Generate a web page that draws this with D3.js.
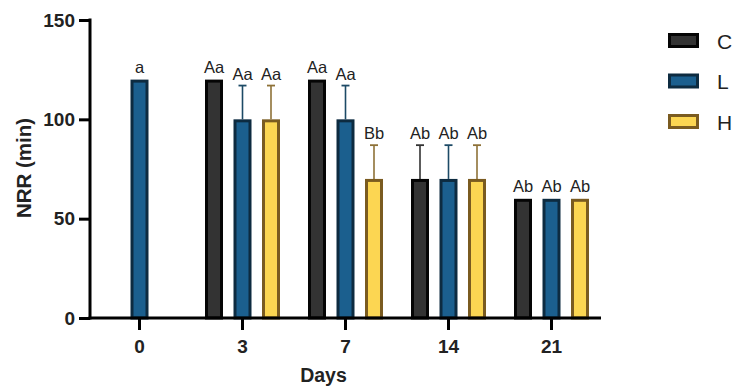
<!DOCTYPE html>
<html>
<head>
<meta charset="utf-8">
<script src="https://cdn.jsdelivr.net/npm/d3@7"></script>
<style>
  html, body { margin: 0; padding: 0; background: #fff; }
  svg { display: block; font-family: "Liberation Sans", Arial, sans-serif; }
</style>
</head>
<body>
<svg id="chart" width="736" height="387"></svg>
<script>
// Days on the x axis
const days = ["0", "3", "7", "14", "21"];
// Treatment groups
const groups = ["C", "L", "H"];

// Mean NRR (min) per group and day (null = not measured)
const valuesC = [null, 120, 120, 70, 60];
const valuesL = [120, 100, 100, 70, 60];
const valuesH = [null, 100, 70, 70, 60];

// Upper error (SD) per group and day
const errorC = [0, 0, 0, 17, 0];
const errorL = [0, 17, 17, 17, 0];
const errorH = [0, 17, 17, 17, 0];

// Significance letters per group and day
const lettersC = [null, "Aa", "Aa", "Ab", "Ab"];
const lettersL = ["a", "Aa", "Aa", "Ab", "Ab"];
const lettersH = [null, "Aa", "Bb", "Ab", "Ab"];

const yTicks = [0, 50, 100, 150];

const fills   = { C: "#333333", L: "#1b5f8e", H: "#fcd652" };
const strokes = { C: "#050505", L: "#0d2b40", H: "#7a5b20" };
const errCols = { C: "#333333", L: "#1d4a66", H: "#8e7137" };

const series = {
  C: { v: valuesC, e: errorC, t: lettersC },
  L: { v: valuesL, e: errorL, t: lettersL },
  H: { v: valuesH, e: errorH, t: lettersH }
};

const svg = d3.select("#chart");

const y = d3.scaleLinear().domain([0, 150]).range([318, 20]);
const x = d3.scaleBand().domain(days).range([88, 603]);
const xi = d3.scalePoint().domain(groups).range([-28.5, 28.5]);
const barW = 18, sw = 3;

const rows = [];
groups.forEach(g => {
  days.forEach((d, i) => {
    const v = series[g].v[i];
    if (v == null) return;
    rows.push({ g, d, v, e: series[g].e[i], t: series[g].t[i] });
  });
});

const cx = r => x(r.d) + x.bandwidth() / 2 + xi(r.g);

// error bars (upper only)
const eb = svg.append("g");
rows.filter(r => r.e > 0).forEach(r => {
  const c = cx(r);
  eb.append("line").attr("x1", c).attr("x2", c)
    .attr("y1", y(r.v)).attr("y2", y(r.v + r.e))
    .attr("stroke", errCols[r.g]).attr("stroke-width", 1.6);
  eb.append("line").attr("x1", c - 4).attr("x2", c + 4)
    .attr("y1", y(r.v + r.e)).attr("y2", y(r.v + r.e))
    .attr("stroke", errCols[r.g]).attr("stroke-width", 1.8);
});

// bars
svg.append("g").selectAll("rect").data(rows).join("rect")
  .attr("x", r => cx(r) - barW / 2 + sw / 2)
  .attr("width", barW - sw)
  .attr("y", r => y(r.v) + sw / 2)
  .attr("height", r => y(0) - y(r.v) - sw / 2)
  .attr("fill", r => fills[r.g])
  .attr("stroke", r => strokes[r.g])
  .attr("stroke-width", sw);

// letters
svg.append("g").selectAll("text").data(rows).join("text")
  .attr("x", r => cx(r))
  .attr("y", r => r.e > 0 ? y(r.v + r.e) - 6 : y(r.v) - 7)
  .attr("text-anchor", "middle")
  .attr("font-size", 16.5)
  .attr("fill", "#222")
  .text(r => r.t);

// y axis
const yAxis = svg.append("g").attr("transform", "translate(90,0)")
  .call(d3.axisLeft(y).tickValues(yTicks).tickSize(11).tickPadding(4).tickSizeOuter(0));
yAxis.select(".domain").remove();
yAxis.selectAll(".tick line").attr("stroke", "#000").attr("stroke-width", 3);
yAxis.selectAll(".tick text").attr("font-size", 19).attr("font-weight", "bold")
  .attr("fill", "#222").attr("font-family", "Liberation Sans, Arial, sans-serif");
svg.append("line").attr("x1", 90).attr("x2", 90).attr("y1", y(150) - 1.5).attr("y2", y(0) + 1.5)
  .attr("stroke", "#000").attr("stroke-width", 3);

// x axis
const xAxis = svg.append("g").attr("transform", `translate(0,${y(0)})`)
  .call(d3.axisBottom(x).tickSize(12).tickPadding(10).tickSizeOuter(0));
xAxis.select(".domain").remove();
xAxis.selectAll(".tick line").attr("stroke", "#000").attr("stroke-width", 3);
xAxis.selectAll(".tick text").attr("font-size", 19).attr("font-weight", "bold")
  .attr("fill", "#222").attr("font-family", "Liberation Sans, Arial, sans-serif");
svg.append("line").attr("x1", 88.5).attr("x2", 601).attr("y1", y(0)).attr("y2", y(0))
  .attr("stroke", "#000").attr("stroke-width", 3);

// axis titles
svg.append("text").attr("transform", "translate(31,168) rotate(-90)")
  .attr("text-anchor", "middle").attr("font-size", 20.5).attr("font-weight", "bold")
  .attr("fill", "#222").text("NRR (min)");
svg.append("text").attr("x", 323.5).attr("y", 382)
  .attr("text-anchor", "middle").attr("font-size", 19.5).attr("font-weight", "bold")
  .attr("fill", "#222").text("Days");

// legend
const lg = svg.append("g").selectAll("g").data(groups).join("g")
  .attr("transform", (g, i) => `translate(668,${33 + i * 40.5})`);
lg.append("rect").attr("x", 1.5).attr("y", 1.5).attr("width", 28).attr("height", 12)
  .attr("fill", g => fills[g]).attr("stroke", g => strokes[g]).attr("stroke-width", 3);
lg.append("text").attr("x", 49).attr("y", 15.5).attr("font-size", 21)
  .attr("fill", "#222").text(g => g);
</script>
</body>
</html>
